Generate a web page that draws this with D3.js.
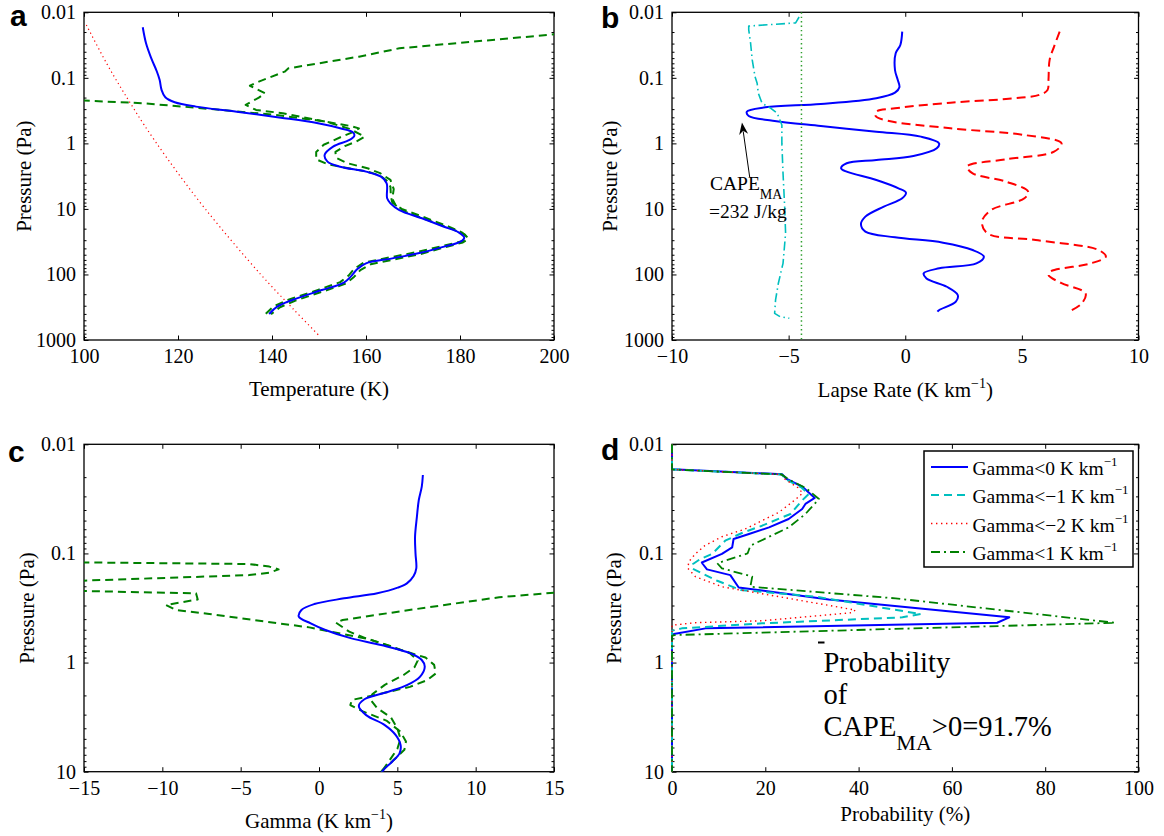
<!DOCTYPE html>
<html>
<head>
<meta charset="utf-8">
<script src="https://cdn.jsdelivr.net/npm/d3@7"></script>
<style>
  body { margin: 0; background: #fff; }
  svg text { font-family: "Liberation Serif", "Tinos", "Times New Roman", "DejaVu Serif", serif; fill: #000; }
  svg text.tag { font-family: "Liberation Sans", Arial, Helvetica, sans-serif; font-weight: bold; }
</style>
</head>
<body>
<svg id="fig" width="1164" height="836"></svg>
<script>
// ---------- tick values ----------
const tempTicks  = [100, 120, 140, 160, 180, 200];
const lapseTicks = [-10, -5, 0, 5, 10];
const gammaTicks = [-15, -10, -5, 0, 5, 10, 15];
const probTicks  = [0, 20, 40, 60, 80, 100];
const pTicksDeep = [0.01, 0.1, 1, 10, 100, 1000];
const pTicksUpper = [0.01, 0.1, 1, 10];

// ---------- (a) temperature profiles: [T (K), P (Pa)] ----------
const tempMean = [[112.5,0.0169],[113.2,0.0297],[114.3,0.050],[115.5,0.080],[116.1,0.108],[116.5,0.153],
  [117.3,0.198],[119.3,0.236],[123.8,0.275],[132.5,0.328],[141.9,0.405],[149.8,0.494],[154.5,0.589],
  [157.3,0.686],[157.5,0.771],[156.5,0.887],[153.0,1.12],[151.2,1.50],[151.8,1.90],[154.5,2.27],
  [160.0,2.70],[163.2,3.22],[164.4,4.07],[164.5,6.89],[165.2,8.22],[167.1,10.4],[171.9,13.9],
  [176.6,18.7],[179.7,22.8],[180.9,27.4],[180.1,31.6],[176.6,37.6],[171.1,47.6],[165.6,56.8],
  [160.0,67.7],[158.1,83.5],[156.9,105],[155.3,133],[150.6,173],[144.3,245],[141.1,310],[139.4,401]];
const tempLow = [[94,0.21],[100,0.222],[112.5,0.244],[126.7,0.298],[140.9,0.369],[151,0.46],[156.5,0.54],
  [158.5,0.59],[157.5,0.66],[155,0.78],[151,1.05],[149.4,1.35],[149.4,1.75],[152,2.1],[157,2.45],
  [160.5,2.72],[163,3.1],[164.6,3.8],[165.2,4.6],[165.3,6.5],[165.6,8.0],[167.6,10.0],[172.5,13.5],
  [177.5,18.5],[180.5,23],[181.5,27],[180.5,31],[176.5,36.5],[170.5,46],[165,55],[159.5,66],
  [157.5,82],[156.3,104],[154.5,131],[149.8,172],[143.5,243],[140.3,308],[138.4,415]];
const tempHigh = [[215,0.0175],[200,0.0217],[167.1,0.0354],[158.5,0.0475],[143.5,0.0716],[142.7,0.0804],
  [137.2,0.114],[135.3,0.132],[138.5,0.172],[137.2,0.200],[134.4,0.259],[136.6,0.309],[142.3,0.347],
  [151.5,0.467],[156.5,0.60],[159.7,0.79],[158,0.93],[155.5,1.1],[153.5,1.35],[153.6,1.65],[156,2.0],
  [160.5,2.42],[163,2.85],[165.2,3.6],[165.9,5.0],[165.6,7.0],[166.3,8.8],[168.2,11],[173,14.7],
  [178,19.8],[181,24.5],[181.8,28.5],[180.6,32.5],[176.8,38.5],[171.5,49],[166.2,58.5],[161,70],
  [158.8,86],[157.5,108],[155.8,137],[151.2,178],[145,250],[141.7,316],[139.8,405]];
const tempAdiabat = [[100.5,0.0156],[104.8,0.06],[107.9,0.144],[110.1,0.259],[112.8,0.524],[117.7,1.69],
  [125.8,10],[137.6,100],[144.4,330],[150.3,900]];

// ---------- (b) lapse rates: [K/km, P (Pa)] ----------
const lapseMean = [[-0.13,0.0197],[-0.21,0.0315],[-0.41,0.0423],[-0.44,0.0759],[-0.32,0.108],[-0.25,0.139],
  [-0.44,0.168],[-1.24,0.205],[-3.62,0.251],[-6.0,0.282],[-6.79,0.328],[-6.71,0.382],[-5.68,0.450],
  [-3.62,0.543],[-1.24,0.663],[0.67,0.789],[1.45,0.997],[1.35,1.19],[0.35,1.56],[-1.24,1.79],
  [-2.51,2.01],[-2.75,2.40],[-2.51,2.70],[-1.24,3.62],[-0.29,4.85],[0.03,5.65],[-0.13,6.89],
  [-0.92,9.23],[-1.71,13.1],[-1.90,17.0],[-1.71,22.2],[-0.44,27.1],[1.62,32.7],[2.89,42.4],
  [3.37,53.5],[3.05,67.6],[1.46,80.5],[0.79,96.1],[0.91,115],[1.78,154],[2.25,206],[2.17,260],
  [1.46,348],[1.38,370]];
const lapseShifted = [[6.62,0.0197],[6.38,0.0334],[6.19,0.0533],[6.14,0.108],[6.10,0.153],[5.75,0.182],
  [4.32,0.210],[1.94,0.239],[-0.44,0.292],[-1.24,0.328],[-1.27,0.382],[-0.76,0.450],[1.94,0.589],
  [5.11,0.745],[6.70,0.997],[6.38,1.34],[4.32,1.75],[2.65,2.26],[2.89,2.86],[4.32,3.84],[5.27,5.46],
  [5.11,6.89],[3.68,10.4],[3.29,15.6],[3.52,23.5],[5.59,29.8],[8.29,42.4],[8.60,53.5],[7.97,67.6],
  [6.22,90.6],[6.14,102],[6.70,136],[7.73,194],[7.57,276],[7.02,370]];
const lapseParcel = [[-4.55,0.0118],[-4.7,0.0145],[-6.71,0.0162],[-6.71,0.0186],[-6.63,0.0297],
  [-6.56,0.0533],[-6.44,0.0959],[-6.35,0.121],[-6.3,0.172],[-6.14,0.244],[-5.76,0.292],[-5.49,0.347],
  [-5.29,0.524],[-5.29,1.0],[-5.24,2.86],[-5.17,9.23],[-5.13,23.5],[-5.24,67.6],[-5.44,136],
  [-5.56,245],[-5.60,392],[-5.37,440],[-4.97,467]];
const lapseRef = [[-4.45,0.01],[-4.45,1000]];
const capeArrow = [[-6.67,3.26],[-7.0,0.48]];

// ---------- (c) Gamma: [K/km, P (Pa)] ----------
const gammaMean = [[6.63,0.0191],[6.56,0.0244],[6.37,0.0324],[6.25,0.046],[6.13,0.0702],[6.16,0.0998],
  [6.21,0.137],[6.04,0.161],[5.61,0.188],[5.02,0.206],[3.72,0.232],[1.60,0.258],[-0.30,0.291],
  [-1.12,0.330],[-1.29,0.380],[-0.53,0.437],[0.41,0.503],[2.07,0.600],[3.96,0.690],[5.85,0.824],
  [6.56,0.948],[6.75,1.09],[6.44,1.35],[5.61,1.61],[4.43,1.85],[2.90,2.17],[2.54,2.50],[3.01,3.03],
  [4.20,3.74],[4.90,4.62],[5.21,5.70],[5.14,6.80],[4.67,8.10],[4.20,9.33],[4.03,10],[3.5,12]];
const gammaLow = [[-16,0.1205],[-4.45,0.125],[-3.17,0.132],[-2.58,0.140],[-3.17,0.150],[-4.45,0.158],
  [-16,0.1795],[-16,0.2195],[-7.85,0.232],[-7.74,0.264],[-9.77,0.297],[-9.13,0.330],[-7.0,0.359],
  [-3.81,0.414],[-0.62,0.476],[3.21,0.612],[5.0,0.75],[6.8,0.90],[7.35,1.05],[7.45,1.26],[6.9,1.45],
  [5.8,1.67],[3.8,1.95],[2.1,2.2],[2.0,2.45],[2.8,2.8],[4.3,3.4],[5.2,4.3],[5.55,5.3],[5.45,6.3],
  [4.9,7.5],[4.2,9.3],[3.8,10.5]];
const gammaHigh = [[20,0.22],[15,0.229],[11.5,0.252],[5.76,0.330],[1.51,0.407],[1.08,0.431],[1.93,0.521],
  [3.0,0.60],[4.5,0.70],[5.8,0.82],[6.3,0.96],[6.1,1.1],[5.4,1.3],[4.2,1.6],[3.4,1.95],[3.3,2.2],
  [3.7,2.6],[4.6,3.2],[5.0,4.0],[5.2,5.0],[5.0,6.2],[4.6,7.5],[4.1,9.5],[3.8,10.5]];

// ---------- (d) probability (%) vs P (Pa) ----------
const probLt0 = [[0,0.01],[0,0.0169],[23.6,0.0188],[24.6,0.0208],[27.9,0.0244],[30.6,0.031],[28.6,0.0352],
  [27.9,0.0392],[25,0.0484],[20.8,0.0577],[16.5,0.0664],[13.2,0.0738],[12.9,0.0879],[10.7,0.101],
  [6.4,0.121],[6.6,0.125],[7.5,0.140],[12.5,0.158],[14.3,0.205],[33.6,0.264],[72.3,0.385],[69.7,0.432],
  [7.2,0.486],[0.4,0.548],[0,0.56],[0,10]];
const probLtM1 = [[0,0.01],[0,0.017],[23.5,0.0189],[24.5,0.021],[27.8,0.025],[29.3,0.0286],[27.8,0.033],
  [25.4,0.0435],[19.3,0.0557],[15,0.065],[11.4,0.0764],[8.6,0.101],[6,0.113],[4.5,0.125],[4.3,0.137],
  [7.2,0.158],[9.7,0.178],[14.7,0.216],[30.8,0.249],[53.3,0.359],[49.4,0.385],[19.3,0.437],[2.1,0.486],
  [0,0.51],[0,10]];
const probLtM2 = [[0,0.01],[0,0.017],[23.5,0.0189],[24.3,0.021],[27,0.025],[28,0.028],[26.5,0.032],
  [22.9,0.042],[15.7,0.0597],[10.7,0.0703],[7,0.085],[5,0.101],[3.6,0.119],[3.4,0.137],[5,0.163],
  [10.7,0.202],[22.9,0.249],[39.3,0.330],[38.6,0.349],[19.3,0.414],[5,0.431],[0,0.455],[0,10]];
const probLt1 = [[0,0.01],[0,0.017],[23.5,0.0189],[25,0.021],[28.6,0.025],[31.5,0.0317],[28.6,0.0435],
  [25,0.0577],[16.8,0.085],[16.2,0.1],[9.7,0.123],[10.7,0.137],[17.2,0.163],[16.8,0.202],[47.9,0.258],
  [95,0.432],[0.5,0.56],[0,0.57],[0,10]];
const legendLabels = ["Gamma<0 K km", "Gamma<\u22121 K km", "Gamma<\u22122 K km", "Gamma<1 K km"];

// ---------- drawing ----------
const svg = d3.select("#fig");

const boxes = {
  a: {x0: 84,  x1: 554,    y0: 12.3,  y1: 340},
  b: {x0: 672, x1: 1138.5, y0: 12.3,  y1: 340},
  c: {x0: 84,  x1: 554,    y0: 444.3, y1: 771.7},
  d: {x0: 672, x1: 1138.5, y0: 444.3, y1: 771.7}
};

function makePanel(key, xDomain, yDomain, xTicks, yTicks) {
  const box = boxes[key];
  const x = d3.scaleLinear().domain(xDomain).range([box.x0, box.x1]);
  const y = d3.scaleLog().domain(yDomain).range([box.y0, box.y1]);
  const g = svg.append("g").attr("class", "panel-" + key);

  svg.append("clipPath").attr("id", "clip-" + key)
    .append("rect").attr("x", box.x0).attr("y", box.y0)
    .attr("width", box.x1 - box.x0).attr("height", box.y1 - box.y0);

  const ax = g.append("g").attr("class", "axes");
  const fmtX = d3.format("d");
  const fmtP = d => String(d);
  const none = () => "";
  const minor = y.ticks().filter(v => !yTicks.some(t => Math.abs(t - v) / t < 1e-6));

  ax.append("g").attr("transform", `translate(0,${box.y1})`)
    .call(d3.axisBottom(x).tickValues(xTicks).tickFormat(fmtX).tickSizeInner(-4.5).tickSizeOuter(0).tickPadding(9));
  ax.append("g").attr("transform", `translate(0,${box.y0})`)
    .call(d3.axisTop(x).tickValues(xTicks).tickFormat(none).tickSizeInner(-4.5).tickSizeOuter(0));
  ax.append("g").attr("transform", `translate(${box.x0},0)`)
    .call(d3.axisLeft(y).tickValues(yTicks).tickFormat(fmtP).tickSizeInner(-4.5).tickSizeOuter(0).tickPadding(8));
  ax.append("g").attr("transform", `translate(${box.x1},0)`)
    .call(d3.axisRight(y).tickValues(yTicks).tickFormat(none).tickSizeInner(-4.5).tickSizeOuter(0));
  ax.append("g").attr("transform", `translate(${box.x0},0)`)
    .call(d3.axisLeft(y).tickValues(minor).tickFormat(none).tickSizeInner(-2.5).tickSizeOuter(0));
  ax.append("g").attr("transform", `translate(${box.x1},0)`)
    .call(d3.axisRight(y).tickValues(minor).tickFormat(none).tickSizeInner(-2.5).tickSizeOuter(0));

  ax.selectAll(".domain").remove();
  ax.selectAll("g").attr("font-family", null).attr("font-size", 20);
  ax.selectAll(".tick line").attr("stroke", "#000").attr("stroke-width", 1);
  ax.selectAll(".tick text").attr("fill", "#000").style("font-size", "20px");

  g.append("rect").attr("x", box.x0).attr("y", box.y0)
    .attr("width", box.x1 - box.x0).attr("height", box.y1 - box.y0)
    .attr("fill", "none").attr("stroke", "#000").attr("stroke-width", 1.3);

  const data = g.append("g").attr("class", "data");
  return {key, box, x, y, g, data};
}

function drawSeries(p, pts, style, smooth, clip) {
  const line = d3.line().x(d => p.x(d[0])).y(d => p.y(d[1]))
    .curve(smooth ? d3.curveCatmullRom.alpha(0.5) : d3.curveLinear);
  const path = p.data.append("path").attr("d", line(pts))
    .attr("fill", "none").attr("stroke", style.color).attr("stroke-width", style.width)
    .attr("stroke-linejoin", "round");
  if (style.dash) path.attr("stroke-dasharray", style.dash);
  if (clip) path.attr("clip-path", `url(#clip-${p.key})`);
  return path;
}

function xLabel(p, y, main, sup, tail) {
  const t = svg.append("text").attr("x", (p.box.x0 + p.box.x1) / 2).attr("y", y)
    .attr("text-anchor", "middle").style("font-size", "21px");
  t.append("tspan").text(main);
  if (sup) {
    t.append("tspan").attr("dy", -9).style("font-size", "14px").text(sup);
    t.append("tspan").attr("dy", 9).text(tail);
  }
}

function yLabel(p, xBase) {
  const cy = (p.box.y0 + p.box.y1) / 2;
  svg.append("text").attr("transform", `translate(${xBase},${cy}) rotate(-90)`)
    .attr("text-anchor", "middle").style("font-size", "21px").text("Pressure (Pa)");
}

function panelTag(letter, x, y) {
  svg.append("text").attr("class", "tag").attr("x", x).attr("y", y)
    .style("font-size", "30px").text(letter);
}

const BLUE = "#0000ff", GREEN = "#008000", RED = "#ff0000", CYAN = "#00bfbf";

// (a)
const pa = makePanel("a", [100, 200], [0.01, 1000], tempTicks, pTicksDeep);
drawSeries(pa, tempAdiabat, {color: RED, width: 1.2, dash: "1.2,3.2"}, true, true);
drawSeries(pa, tempLow,  {color: GREEN, width: 2, dash: "8,5"}, false, true);
drawSeries(pa, tempHigh, {color: GREEN, width: 2, dash: "8,5"}, false, true);
drawSeries(pa, tempMean, {color: BLUE, width: 2}, true, true);
xLabel(pa, 396, "Temperature (K)");
yLabel(pa, 31);
panelTag("a", 10, 26);

// (b)
const pb = makePanel("b", [-10, 10], [0.01, 1000], lapseTicks, pTicksDeep);
drawSeries(pb, lapseMean, {color: BLUE, width: 2}, true, true);
drawSeries(pb, lapseShifted, {color: RED, width: 2, dash: "9,5"}, true, true);
drawSeries(pb, lapseParcel, {color: CYAN, width: 1.6, dash: "9,3.5,1.5,3.5"}, false, true);
drawSeries(pb, lapseRef, {color: "#2fa02f", width: 1.5, dash: "1.4,3"}, false, true);
xLabel(pb, 397, "Lapse Rate (K km", "\u22121", ")");
yLabel(pb, 617);
panelTag("b", 601, 28);

// CAPE annotation with arrow
{
  const [x1, y1] = [pb.x(capeArrow[0][0]), pb.y(capeArrow[0][1])];
  const [x2, y2] = [pb.x(capeArrow[1][0]), pb.y(capeArrow[1][1])];
  const len = Math.hypot(x2 - x1, y2 - y1);
  const ux = (x2 - x1) / len, uy = (y2 - y1) / len;
  const nx = -uy, ny = ux;
  const L = 12, W = 4.5;
  const bx = x2 - ux * L, by = y2 - uy * L;
  pb.data.append("line").attr("x1", x1).attr("y1", y1).attr("x2", bx + ux * 3).attr("y2", by + uy * 3)
    .attr("stroke", "#000").attr("stroke-width", 1);
  pb.data.append("path")
    .attr("d", `M${x2},${y2}L${bx + nx * W},${by + ny * W}L${x2 - ux * L * 0.7},${y2 - uy * L * 0.7}L${bx - nx * W},${by - ny * W}Z`)
    .attr("fill", "#000");
  const t1 = svg.append("text").attr("x", 710).attr("y", 190).style("font-size", "19.5px");
  t1.append("tspan").text("CAPE");
  t1.append("tspan").attr("dy", 9).style("font-size", "14px").text("MA");
  svg.append("text").attr("x", 709).attr("y", 218).style("font-size", "19.5px").text("=232 J/kg");
}

// (c)
const pc = makePanel("c", [-15, 15], [0.01, 10], gammaTicks, pTicksUpper);
drawSeries(pc, gammaLow,  {color: GREEN, width: 2, dash: "8,5"}, false, true);
drawSeries(pc, gammaHigh, {color: GREEN, width: 2, dash: "8,5"}, false, true);
drawSeries(pc, gammaMean, {color: BLUE, width: 2}, true, true);
xLabel(pc, 828, "Gamma (K km", "\u22121", ")");
yLabel(pc, 34);
panelTag("c", 8, 462);

// (d)
const pd = makePanel("d", [0, 100], [0.01, 10], probTicks, pTicksUpper);
const probStyles = [
  {color: BLUE, width: 2},
  {color: CYAN, width: 2, dash: "8,5"},
  {color: RED, width: 1.4, dash: "1.4,3.6"},
  {color: GREEN, width: 1.8, dash: "9,4,2,4"}
];
[probLt0, probLtM1, probLtM2, probLt1].forEach((s, i) => drawSeries(pd, s, probStyles[i], false, false));
xLabel(pd, 821, "Probability (%)");
yLabel(pd, 621);
panelTag("d", 601, 460);

// legend
{
  const lg = svg.append("g");
  lg.append("rect").attr("x", 924).attr("y", 451).attr("width", 209).attr("height", 116)
    .attr("fill", "#fff").attr("stroke", "#000").attr("stroke-width", 1.5);
  const baselines = [475, 503, 531.5, 560];
  legendLabels.forEach((lab, i) => {
    const ly = baselines[i] - 8;
    const ln = lg.append("line").attr("x1", 931).attr("x2", 968).attr("y1", ly).attr("y2", ly)
      .attr("stroke", probStyles[i].color).attr("stroke-width", probStyles[i].width);
    if (probStyles[i].dash) ln.attr("stroke-dasharray", probStyles[i].dash);
    const t = lg.append("text").attr("x", 972.5).attr("y", baselines[i]).style("font-size", "19.5px");
    t.append("tspan").text(lab);
    t.append("tspan").attr("dy", -9).style("font-size", "13px").text("\u22121");
  });
}

// probability statement
{
  svg.append("rect").attr("x", 818).attr("y", 641.5).attr("width", 6.5).attr("height", 2).attr("fill", "#000");
  svg.append("text").attr("x", 823.5).attr("y", 672).style("font-size", "28.5px").text("Probability");
  svg.append("text").attr("x", 823.5).attr("y", 704).style("font-size", "28.5px").text("of");
  const t = svg.append("text").attr("x", 823.5).attr("y", 736).style("font-size", "28.5px");
  t.append("tspan").text("CAPE");
  t.append("tspan").attr("dy", 14).style("font-size", "22px").text("MA");
  t.append("tspan").attr("dy", -14).text(">0=91.7%");
}
</script>
</body>
</html>
